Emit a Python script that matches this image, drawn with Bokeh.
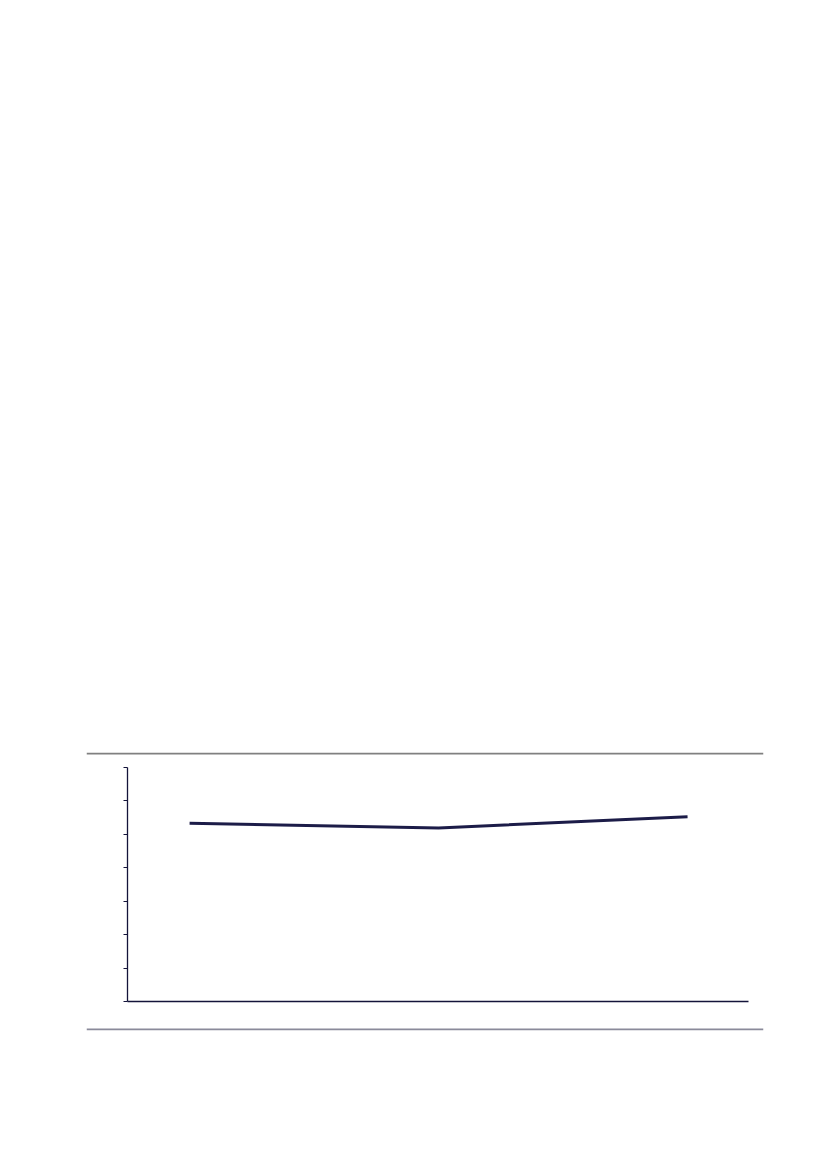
from bokeh.plotting import figure
from bokeh.models import LinearAxis, Range1d, FixedTicker, Span
from bokeh.embed import file_html
from bokeh.resources import INLINE

# data
categories = [0, 1, 2]
values = [5.33, 5.19, 5.53]
y_ticks = [0, 1, 2, 3, 4, 5, 6, 7]

# scale: 249 px per x unit, 33.43 px per y unit
x_axis_lo, x_axis_hi = -0.249, 2.245
y_axis_lo, y_axis_hi = 0, 7

p = figure(width=773, height=1040, output_backend="svg", toolbar_location=None,
           x_axis_location=None, y_axis_location=None,
           x_range=Range1d(-0.414, 2.305), y_range=Range1d(-0.867, 7.449),
           min_border_left=86, min_border_right=10, min_border_top=752, min_border_bottom=10)
p.outline_line_color = None
p.xgrid.visible = False
p.ygrid.visible = False
p.background_fill_color = "white"
p.border_fill_color = "white"

# rules (top and bottom of frame)
p.add_layout(Span(location=7.449 - 0.03, dimension="width", line_color="#808080", line_width=2))
p.add_layout(Span(location=-0.867 + 0.03, dimension="width", line_color="#8a8a9a", line_width=2))

ya = LinearAxis(fixed_location=x_axis_lo, bounds=(y_axis_lo, y_axis_hi),
                ticker=FixedTicker(ticks=y_ticks))
ya.axis_line_color = "#14143a"
ya.axis_line_width = 1.3
ya.major_tick_line_color = "#14143a"
ya.major_tick_in = 0
ya.major_tick_out = 4
ya.minor_tick_line_color = None
ya.major_label_text_font_size = "0pt"
ya.major_label_text_color = None
p.add_layout(ya, "left")

xa = LinearAxis(fixed_location=y_axis_lo, bounds=(x_axis_lo, x_axis_hi),
                ticker=FixedTicker(ticks=[]))
xa.axis_line_color = "#14143a"
xa.axis_line_width = 1.3
xa.major_tick_line_color = None
xa.minor_tick_line_color = None
xa.major_label_text_font_size = "0pt"
xa.major_label_text_color = None
p.add_layout(xa, "below")

p.line(categories, values, line_color="#1c1c48", line_width=3)

open("out.html", "w").write(file_html(p, INLINE))
